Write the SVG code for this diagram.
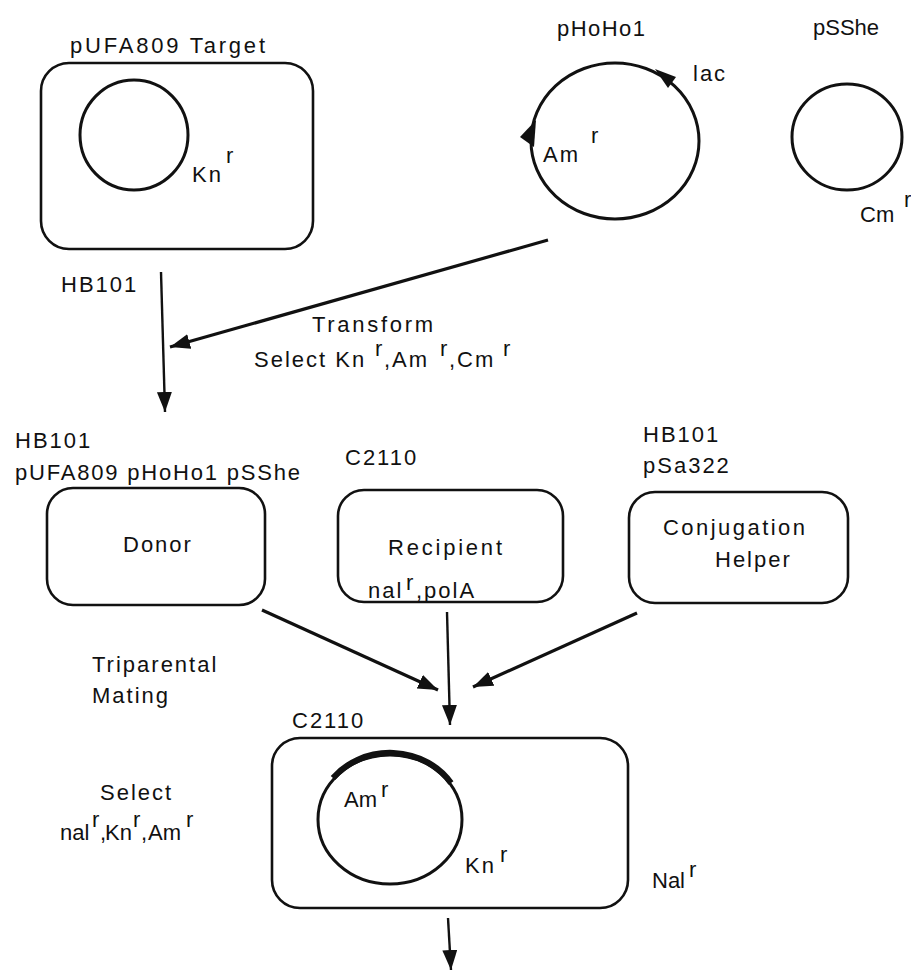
<svg xmlns="http://www.w3.org/2000/svg" width="911" height="970" viewBox="0 0 911 970">
<style>
text{font-family:"Liberation Sans",Arial,sans-serif;font-size:22px;letter-spacing:2px;fill:#111}
.tight{letter-spacing:0}
.box{fill:none;stroke:#111;stroke-width:2.6}
.plas{fill:none;stroke:#111;stroke-width:3}
.con{fill:none;stroke:#111;stroke-width:2.4}
.conb{fill:none;stroke:#111;stroke-width:3.2}
</style>
<defs>
<marker id="ah" markerUnits="userSpaceOnUse" markerWidth="22" markerHeight="16" refX="20" refY="7.5" orient="auto">
<path d="M0,0 L20,7.5 L0,15 z" fill="#111"/>
</marker>
</defs>
<rect width="911" height="970" fill="#fff"/>

<g id="target">
<text x="70" y="53" textLength="197" lengthAdjust="spacing">pUFA809  Target</text>
<rect class="box" x="41" y="63" width="272" height="186" rx="28"/>
<ellipse class="plas" cx="134" cy="135" rx="54" ry="55"/>
<text><tspan x="192" y="182">Kn</tspan><tspan x="226" y="163">r</tspan></text>
</g>

<g id="pHoHo1">
<text x="557" y="36" class="tight" textLength="88" lengthAdjust="spacing">pHoHo1</text>
<ellipse class="plas" cx="615" cy="141" rx="84" ry="78"/>
<polygon points="655,69 676,77 668,88" fill="#111"/>
<polygon points="520,137 536,120 534,147" fill="#111"/>
<text x="693" y="81">lac</text>
<text><tspan x="543" y="162">Am</tspan><tspan x="591" y="143">r</tspan></text>
</g>

<g id="pSShe">
<text x="813" y="35" class="tight">pSShe</text>
<ellipse class="plas" cx="847" cy="137" rx="55" ry="53"/>
<text class="tight"><tspan x="860" y="222">Cm</tspan><tspan x="904" y="207">r</tspan></text>
</g>

<g id="hb101">
<text x="61" y="292">HB101</text>
</g>

<g id="transform-label">
<text x="312" y="332" textLength="123" lengthAdjust="spacing">Transform</text>
<text><tspan x="254" y="367">Select Kn</tspan><tspan x="375" y="356">r</tspan><tspan x="384" y="367">,</tspan><tspan x="392" y="367">Am</tspan><tspan x="440" y="356">r</tspan><tspan x="449" y="367">,</tspan><tspan x="457" y="367">Cm</tspan><tspan x="503" y="356">r</tspan></text>
</g>

<g id="donor">
<text x="15" y="448">HB101</text>
<text x="15" y="480" textLength="287" lengthAdjust="spacing">pUFA809 pHoHo1 pSShe</text>
<rect class="box" x="47" y="488" width="218" height="117" rx="26"/>
<text x="123" y="552">Donor</text>
</g>

<g id="recipient">
<text x="345" y="465">C2110</text>
<rect class="box" x="338" y="490" width="225" height="112" rx="26"/>
<text x="388" y="555" textLength="116" lengthAdjust="spacing">Recipient</text>
<text><tspan x="368" y="598">nal</tspan><tspan x="406" y="590">r</tspan><tspan x="416" y="598">,polA</tspan></text>
</g>

<g id="helper">
<text x="643" y="442">HB101</text>
<text x="643" y="473">pSa322</text>
<rect class="box" x="629" y="492" width="219" height="111" rx="26"/>
<text x="663" y="535" textLength="144" lengthAdjust="spacing">Conjugation</text>
<text x="715" y="567">Helper</text>
</g>

<g id="mating-label">
<text x="92" y="672">Triparental</text>
<text x="92" y="703">Mating</text>
</g>

<g id="select-label">
<text x="100" y="800">Select</text>
<text class="tight"><tspan x="60" y="840">nal</tspan><tspan x="92" y="827">r</tspan><tspan x="100" y="840">,</tspan><tspan x="105" y="840">Kn</tspan><tspan x="133" y="827">r</tspan><tspan x="141" y="840">,</tspan><tspan x="148" y="840">Am</tspan><tspan x="186" y="827">r</tspan></text>
</g>

<g id="transconjugant">
<text x="292" y="728">C2110</text>
<rect class="box" x="272" y="738" width="356" height="170" rx="28"/>
<ellipse class="plas" cx="390" cy="819.5" rx="72" ry="64.5"/>
<path d="M333,778 A72,64.5 0 0 1 451,783" fill="none" stroke="#111" stroke-width="6"/>
<text class="tight"><tspan x="344" y="807">Am</tspan><tspan x="381" y="797">r</tspan></text>
<text><tspan x="465" y="873">Kn</tspan><tspan x="500" y="862">r</tspan></text>
<text class="tight"><tspan x="652" y="888">Nal</tspan><tspan x="689" y="877">r</tspan></text>
</g>

<g id="connectors">
<line class="con" x1="161" y1="272" x2="165" y2="412" marker-end="url(#ah)"/>
<line class="conb" x1="548" y1="240" x2="170" y2="347" marker-end="url(#ah)"/>
<line class="conb" x1="262" y1="610" x2="438" y2="690" marker-end="url(#ah)"/>
<line class="con" x1="447" y1="612" x2="450" y2="725" marker-end="url(#ah)"/>
<line class="conb" x1="637" y1="613" x2="473" y2="687" marker-end="url(#ah)"/>
<line class="con" x1="448" y1="918" x2="451" y2="970" marker-end="url(#ah)"/>
</g>
</svg>
